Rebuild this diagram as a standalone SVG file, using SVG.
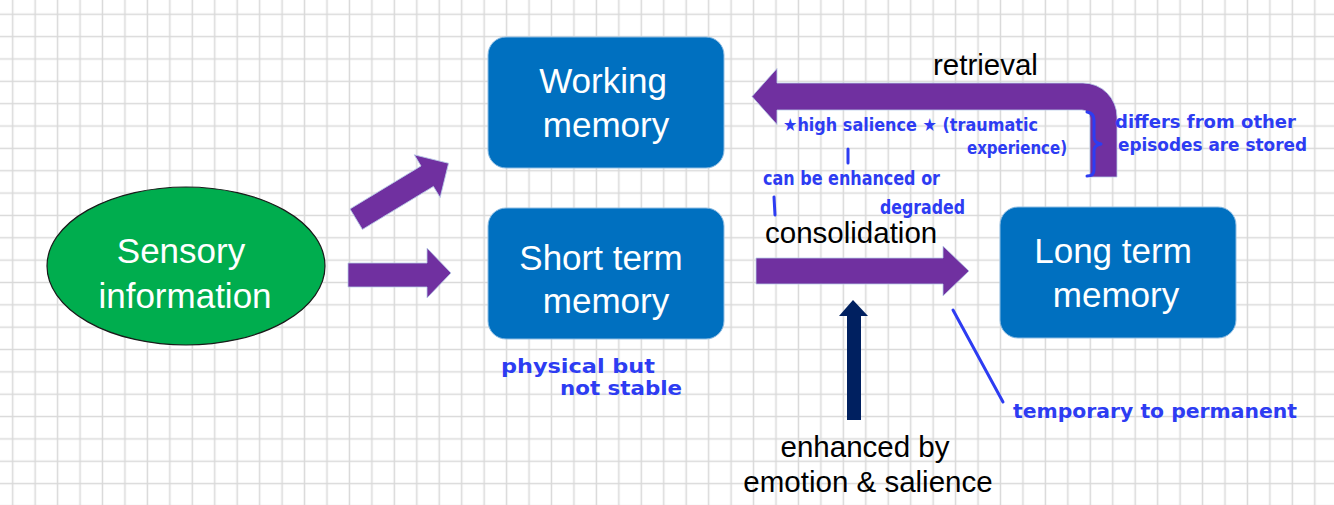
<svg xmlns="http://www.w3.org/2000/svg" width="1334" height="505" viewBox="0 0 1334 505">
  <defs>
    <pattern id="grid" patternUnits="userSpaceOnUse" x="1.5" y="3.1" width="22.45" height="22.35">
      <path d="M11.2 0V22.35M0 11.2H22.45" stroke="#d9d9d9" stroke-width="1.5" fill="none"/>
    </pattern>
    <style>
      .box { fill: #0070C0; stroke: #8fbde3; stroke-width: 1; }
      .ntxt { font-family: "Liberation Sans", Arial, sans-serif; font-size: 35px; fill: #ffffff; text-anchor: middle; }
      .lbl { font-family: "Liberation Sans", Arial, sans-serif; font-size: 29.5px; fill: #000000; }
      .arr { fill: #7030A0; stroke: #b9cde8; stroke-width: 0.8; }
      .hw { font-family: "DejaVu Sans Condensed", "DejaVu Sans", sans-serif; font-size: 20px; font-weight: bold; fill: #2d3cf2; }
      .hws { font-size: 18px; }
      .hwl { stroke: #2d3cf2; stroke-width: 3; fill: none; stroke-linecap: round; stroke-linejoin: round; }
    </style>
  </defs>

  <rect width="1334" height="505" fill="#ffffff"/>
  <rect width="1334" height="505" fill="url(#grid)"/>

  <g id="connectors">
    <!-- sensory -> working memory (diagonal) -->
    <path class="arr" transform="translate(356.2,219.2) rotate(-31.2)" d="M0,-12 L83,-12 L83,-25 L108,0 L83,25 L83,12 L0,12 Z"/>
    <!-- sensory -> short term -->
    <path class="arr" d="M348,263 L427,263 L427,248 L451,273 L427,298 L427,287 L348,287 Z"/>
    <!-- consolidation -->
    <path class="arr" d="M756,258 L943,258 L943,246 L969,271 L943,296 L943,284 L756,284 Z"/>
    <!-- retrieval (bent) -->
    <path class="arr" d="M752,96.5 L777,68.5 L777,83 L1083,83 A34,34 0 0 1 1117,117 L1117,177 L1090,177 L1090,118 A8,8 0 0 0 1082,110 L777,110 L777,124.5 Z"/>
    <!-- enhanced by emotion -->
    <path d="M853,300 L868,316 L861,316 L861,420 L847,420 L847,316 L839,316 Z" fill="#002060"/>
    <text class="lbl" x="933" y="75">retrieval</text>
    <text class="lbl" x="765" y="243">consolidation</text>
    <text class="lbl" x="865" y="457" text-anchor="middle">enhanced by</text>
    <text class="lbl" x="868" y="492" text-anchor="middle">emotion &amp; salience</text>
  </g>

  <g id="sensory">
    <ellipse cx="186" cy="266" rx="139" ry="79" fill="#00AD4E" stroke="#1a1a1a" stroke-width="1.2"/>
    <text class="ntxt" x="181" y="263">Sensory</text>
    <text class="ntxt" x="185" y="308">information</text>
  </g>

  <g id="working">
    <rect class="box" x="488" y="37" width="236" height="131" rx="18"/>
    <text class="ntxt" x="603" y="93">Working</text>
    <text class="ntxt" x="606" y="137">memory</text>
  </g>

  <g id="shortterm">
    <rect class="box" x="488" y="208" width="236" height="131" rx="18"/>
    <text class="ntxt" x="601" y="270">Short term</text>
    <text class="ntxt" x="606" y="313">memory</text>
  </g>

  <g id="longterm">
    <rect class="box" x="1000" y="207" width="236" height="131" rx="18"/>
    <text class="ntxt" x="1113" y="263">Long term</text>
    <text class="ntxt" x="1116" y="307">memory</text>
  </g>

  <g id="notes">
    <text class="hw hws" x="783" y="131" textLength="255" lengthAdjust="spacingAndGlyphs">★high salience ★ (traumatic</text>
    <text class="hw hws" x="967" y="154" textLength="100" lengthAdjust="spacingAndGlyphs">experience)</text>
    <path class="hwl" d="M848,149 L848,163"/>
    <text class="hw" x="763" y="185" textLength="177" lengthAdjust="spacingAndGlyphs">can be enhanced or</text>
    <path class="hwl" d="M774,197 L775,215"/>
    <text class="hw" x="880" y="214" textLength="85" lengthAdjust="spacingAndGlyphs">degraded</text>
    <path class="hwl" d="M1087,112 Q1094,113 1094,120 L1094,137 Q1094,143 1101,144 Q1094,145 1094,151 L1094,170 Q1094,176 1087,176"/>
    <text class="hw hws" x="1115" y="128" textLength="181" lengthAdjust="spacingAndGlyphs">differs from other</text>
    <text class="hw hws" x="1118" y="151" textLength="189" lengthAdjust="spacingAndGlyphs">episodes are stored</text>
    <text class="hw" x="501" y="373" textLength="154" lengthAdjust="spacingAndGlyphs">physical but</text>
    <text class="hw" x="560" y="395" textLength="122" lengthAdjust="spacingAndGlyphs">not stable</text>
    <path class="hwl" d="M953,310 L1003,402"/>
    <text class="hw" x="1013" y="418" textLength="284" lengthAdjust="spacingAndGlyphs">temporary to permanent</text>
  </g>
</svg>
